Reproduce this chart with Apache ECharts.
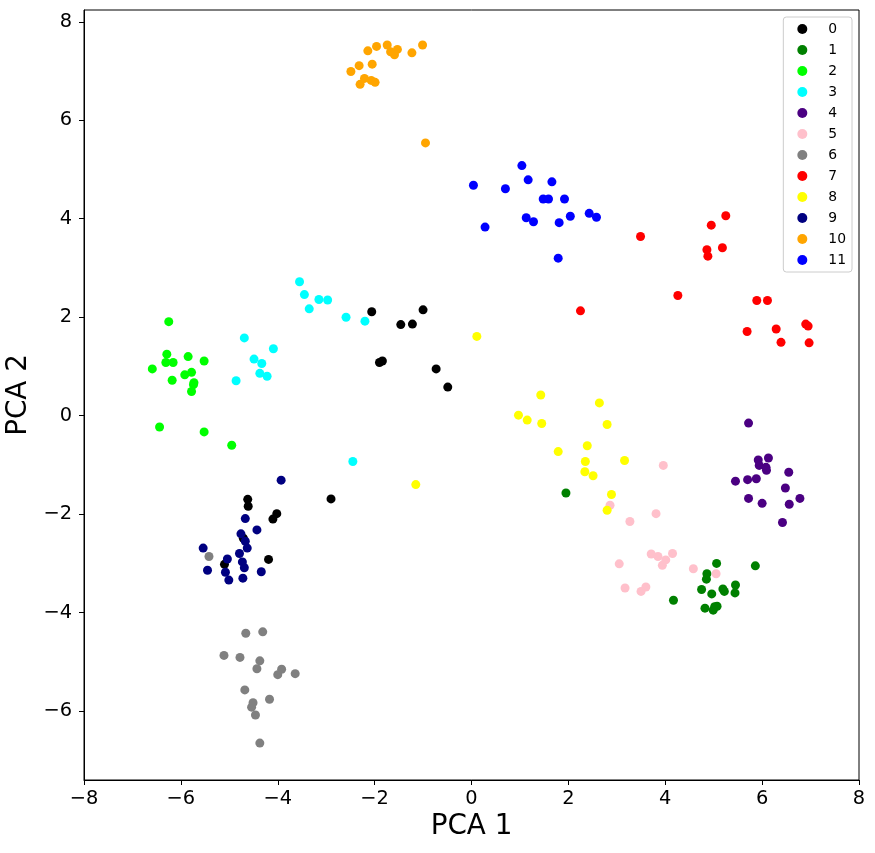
<!DOCTYPE html>
<html>
<head>
<meta charset="utf-8">
<script src="https://cdn.jsdelivr.net/npm/echarts@6/dist/echarts.min.js"></script>
<style>
html,body{margin:0;padding:0;background:#fff;}
#chart{width:875px;height:853px;}
</style>
</head>
<body>
<div id="chart"></div>
<script>
const classNames = ['0','1','2','3','4','5','6','7','8','9','10','11'];
const classColors = ['#000000','#008000','#00ff00','#00ffff','#4b0082','#ffc0cb','#808080','#ff0000','#ffff00','#000080','#ffa500','#0000ff'];

const class0 = [[-2.06,2.11],[-1.00,2.15],[-1.46,1.85],[-1.22,1.86],[-1.90,1.08],[-1.84,1.11],[-0.73,0.95],[-0.49,0.58],
  [-2.90,-1.69],[-4.62,-1.70],[-4.61,-1.84],[-4.02,-1.99],[-4.10,-2.10],[-4.71,-2.49],[-4.19,-2.92],[-5.10,-3.02]];
const class1 = [[1.95,-1.57],[5.06,-3.00],[5.86,-3.05],[4.86,-3.21],[4.85,-3.32],[5.45,-3.44],[5.19,-3.52],[5.22,-3.57],
  [4.75,-3.53],[5.44,-3.60],[4.96,-3.62],[4.82,-3.91],[4.99,-3.95],[5.07,-3.87],[4.17,-3.75],[5.02,-3.88]];
const class2 = [[-6.25,1.91],[-6.29,1.25],[-6.31,1.08],[-6.16,1.08],[-5.85,1.20],[-5.52,1.11],[-6.59,0.95],[-5.78,0.88],
  [-5.92,0.83],[-6.18,0.72],[-5.73,0.67],[-5.74,0.63],[-5.78,0.49],[-6.44,-0.23],[-5.52,-0.33],[-4.95,-0.60]];
const class3 = [[-3.55,2.72],[-3.45,2.46],[-3.15,2.36],[-2.97,2.35],[-3.35,2.17],[-2.59,2.00],[-2.20,1.92],[-4.69,1.58],
  [-4.09,1.36],[-4.49,1.15],[-4.33,1.06],[-4.37,0.86],[-4.22,0.80],[-4.86,0.71],[-2.45,-0.93]];
const class4 = [[5.72,-0.15],[5.92,-0.90],[6.13,-0.86],[5.94,-1.01],[6.09,-1.11],[6.08,-1.05],[6.55,-1.15],[5.45,-1.33],
  [5.70,-1.30],[5.88,-1.28],[6.48,-1.47],[6.78,-1.68],[5.72,-1.68],[6.00,-1.78],[6.56,-1.80],[6.42,-2.17]];
const class5 = [[3.96,-1.01],[2.86,-1.82],[3.81,-1.99],[3.27,-2.15],[3.71,-2.81],[3.85,-2.86],[4.01,-2.93],[4.15,-2.80],
  [3.94,-3.04],[3.05,-3.01],[4.58,-3.11],[5.05,-3.21],[3.17,-3.50],[3.60,-3.48],[3.50,-3.57]];
const class6 = [[-5.42,-2.86],[-4.66,-4.42],[-4.31,-4.39],[-5.11,-4.87],[-4.78,-4.91],[-4.37,-4.98],[-4.43,-5.14],[-3.92,-5.15],
  [-4.00,-5.26],[-3.64,-5.24],[-4.68,-5.57],[-4.17,-5.76],[-4.51,-5.83],[-4.54,-5.92],[-4.46,-6.08],[-4.37,-6.65]];
const class7 = [[5.25,4.06],[4.95,3.87],[3.49,3.64],[5.18,3.41],[4.86,3.37],[4.88,3.24],[4.26,2.44],[5.89,2.34],
  [6.11,2.34],[2.25,2.13],[6.90,1.86],[6.95,1.82],[5.69,1.71],[6.29,1.76],[6.39,1.49],[6.97,1.48]];
const class8 = [[0.11,1.61],[1.43,0.42],[2.64,0.26],[0.97,0.01],[1.15,-0.09],[1.45,-0.16],[2.80,-0.18],[1.79,-0.73],
  [2.39,-0.61],[2.35,-0.93],[3.16,-0.91],[2.34,-1.14],[2.51,-1.22],[2.89,-1.60],[2.80,-1.92],[-1.15,-1.40]];
const class9 = [[-4.67,-2.09],[-4.43,-2.32],[-4.76,-2.40],[-4.67,-2.55],[-4.63,-2.69],[-5.54,-2.69],[-4.79,-2.80],[-5.04,-2.91],
  [-4.73,-2.97],[-4.69,-3.09],[-5.45,-3.14],[-5.08,-3.18],[-4.34,-3.17],[-5.01,-3.34],[-4.72,-3.30],[-3.93,-1.31]];
const class10 = [[-1.01,7.53],[-1.74,7.53],[-1.96,7.50],[-2.14,7.41],[-1.53,7.44],[-1.67,7.39],[-1.59,7.33],[-1.23,7.37],
  [-2.05,7.14],[-2.32,7.11],[-2.49,6.99],[-2.21,6.85],[-2.07,6.81],[-1.99,6.77],[-2.30,6.73],[-0.95,5.54]];
const class11 = [[1.04,5.08],[0.04,4.68],[1.17,4.79],[1.66,4.75],[0.70,4.61],[1.48,4.40],[1.59,4.40],[1.92,4.40],
  [2.43,4.11],[2.58,4.03],[2.04,4.05],[1.13,4.02],[1.28,3.94],[1.81,3.92],[0.28,3.83],[1.79,3.20]];

const classData = [class0,class1,class2,class3,class4,class5,class6,class7,class8,class9,class10,class11];

const xTicks = [-8,-6,-4,-2,0,2,4,6,8];
const yTicks = [-6,-4,-2,0,2,4,6,8];
const xRange = [-8, 8];
const yRange = [-7.4, 8.24];

function fmt(v){
  if (Math.abs(v - Math.round(v)) > 1e-6) return '';
  return v < 0 ? '\u2212' + Math.abs(v) : String(v);
}

const chart = echarts.init(document.getElementById('chart'), null, {renderer:'canvas'});
const FONT = 'DejaVu Sans';

chart.setOption({
  animation: false,
  backgroundColor: '#ffffff',
  grid: {left: 84, right: 16, top: 10, bottom: 73, show: true, borderColor: '#000', borderWidth: 1,
         containLabel: false, outerBoundsMode: 'none'},
  xAxis: {
    type: 'value', min: xRange[0], max: xRange[1], interval: 2,
    name: 'PCA 1', nameLocation: 'middle', nameGap: 31,
    nameTextStyle: {fontFamily: FONT, fontSize: 27.8, color: '#000'},
    axisLine: {show: true, onZero: false, lineStyle: {color: '#000', width: 1}},
    axisTick: {show: true, length: 5, inside: false, lineStyle: {color: '#000'}, customValues: xTicks},
    axisLabel: {fontFamily: FONT, fontSize: 19.4, color: '#000', margin: 9, formatter: fmt, customValues: xTicks},
    splitLine: {show: false}
  },
  yAxis: {
    type: 'value', min: yRange[0], max: yRange[1], splitNumber: 8,
    name: 'PCA 2', nameLocation: 'middle', nameGap: 49,
    nameTextStyle: {fontFamily: FONT, fontSize: 27.8, color: '#000'},
    axisLine: {show: true, onZero: false, lineStyle: {color: '#000', width: 1}},
    axisTick: {show: true, length: 5, inside: false, lineStyle: {color: '#000'}, customValues: yTicks},
    axisLabel: {fontFamily: FONT, fontSize: 19.4, color: '#000', margin: 12, formatter: fmt, customValues: yTicks},
    splitLine: {show: false}
  },
  legend: {
    orient: 'vertical', right: 23, top: 17,
    padding: [5, 6, 5, 14],
    itemWidth: 10, itemHeight: 10, itemGap: 7,
    icon: 'circle',
    backgroundColor: 'rgba(255,255,255,0.8)',
    borderColor: '#cccccc', borderWidth: 1, borderRadius: 3,
    textStyle: {fontFamily: FONT, fontSize: 13.9, color: '#000', lineHeight: 14, padding: [0, 0, 0, 16]},
    data: classNames
  },
  series: classData.map((d, i) => ({
    name: classNames[i],
    type: 'scatter',
    data: d,
    symbol: 'circle',
    symbolSize: 9,
    itemStyle: {color: classColors[i], opacity: 1},
    emphasis: {disabled: true}
  }))
});
</script>
</body>
</html>
